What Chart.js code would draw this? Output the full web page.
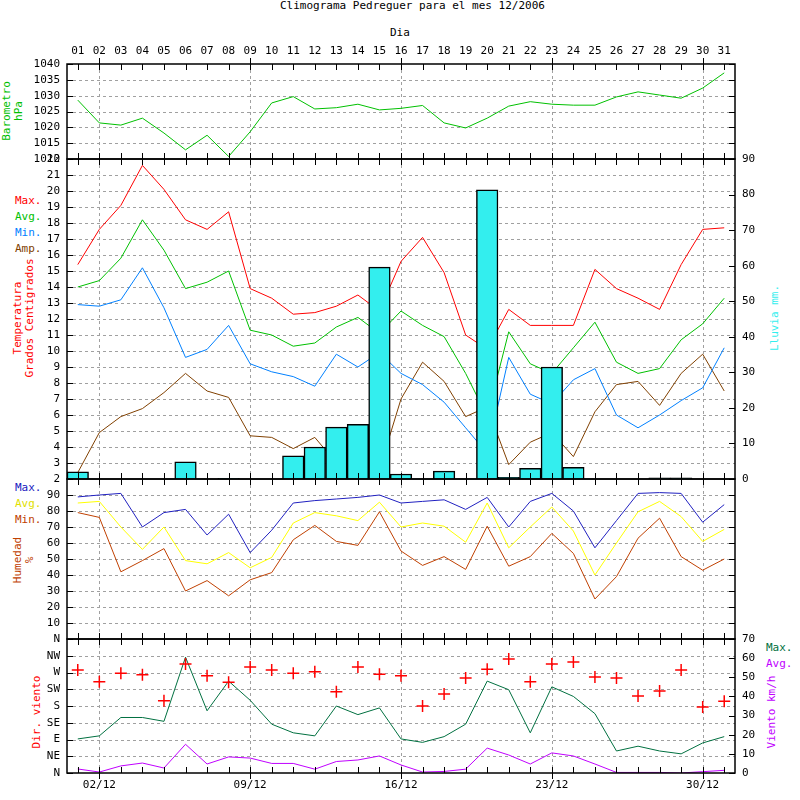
<!DOCTYPE html>
<html lang="es">
<head>
<meta charset="UTF-8">
<title>Climograma Pedreguer 12/2006</title>
<script src="https://cdn.jsdelivr.net/npm/chart.js"></script>
<style>
  body { margin: 0; background: #fff; font-family: "DejaVu Sans Mono", monospace; font-size: 11px; }
  #wrap { position: relative; width: 800px; height: 800px; overflow: hidden; }
  canvas { position: absolute; left: 0; }
  .t { position: absolute; white-space: nowrap; line-height: 12px; }
  .rot { transform: translate(-50%, -50%) rotate(-90deg); text-align: center; }
</style>
</head>
<body>
<div id="wrap">
  <div class="t" style="left:280px;top:0px">Climograma Pedreguer para el mes 12/2006</div>
  <div class="t" style="left:390px;top:27px">Dia</div>

  <div class="t rot" style="left:13px;top:111px;color:#00c000">Barometro<br>hPa</div>

  <div class="t" style="left:15px;top:195px;color:#ff0000">Max.</div>
  <div class="t" style="left:15px;top:211px;color:#00c000">Avg.</div>
  <div class="t" style="left:15px;top:227px;color:#0080ff">Min.</div>
  <div class="t" style="left:15px;top:243px;color:#804000">Amp.</div>
  <div class="t rot" style="left:24px;top:318px;color:#ff0000">Temperatura<br>Grados Centigrados</div>
  <div class="t rot" style="left:775px;top:318px;color:#33eeee">Lluvia mm.</div>

  <div class="t" style="left:15px;top:482px;color:#2020c0">Max.</div>
  <div class="t" style="left:15px;top:498px;color:#e0e000">Avg.</div>
  <div class="t" style="left:15px;top:514px;color:#c04000">Min.</div>
  <div class="t rot" style="left:24px;top:560px;color:#c04000">Humedad<br>%</div>

  <div class="t rot" style="left:37px;top:712px;color:#ff0000">Dir. viento</div>
  <div class="t" style="left:766px;top:642px;color:#007040">Max.</div>
  <div class="t" style="left:766px;top:658px;color:#c000ff">Avg.</div>
  <div class="t rot" style="left:772px;top:712px;color:#c000ff">Viento km/h</div>

  <canvas id="c1" width="800" height="175" style="top:0px"></canvas>
  <canvas id="c2" width="800" height="350" style="top:145px"></canvas>
  <canvas id="c3" width="800" height="190" style="top:465px"></canvas>
  <canvas id="c4" width="800" height="175" style="top:625px"></canvas>
</div>
<script>
const days = ['01','02','03','04','05','06','07','08','09','10','11','12','13','14','15','16',
              '17','18','19','20','21','22','23','24','25','26','27','28','29','30','31'];
const bottomLabels = { '02': '02/12', '09': '09/12', '16': '16/12', '23': '23/12', '30': '30/12' };

const barometro = [1028.6,1021.4,1020.7,1022.9,1018.2,1012.9,1017.5,1010.8,1018.6,1027.7,1029.7,1025.8,
                   1026.2,1027.3,1025.5,1026.0,1026.9,1021.4,1019.8,1022.9,1026.7,1028.1,1027.3,1027.0,
                   1027.0,1029.6,1031.2,1030.2,1029.2,1032.4,1037.2];

const tempMax = [15.4,17.6,19.1,21.6,20.1,18.2,17.6,18.7,13.9,13.3,12.3,12.4,12.8,13.5,12.5,15.6,
                 17.1,14.9,11.0,10.1,12.6,11.6,11.6,11.6,15.1,13.9,13.3,12.6,15.4,17.6,17.7];
const tempAvg = [14.0,14.4,15.8,18.2,16.3,13.9,14.3,15.0,11.3,11.0,10.3,10.5,11.5,12.1,11.1,12.5,
                 11.6,10.9,8.6,5.9,11.2,9.2,8.6,10.2,11.8,9.3,8.6,8.9,10.7,11.7,13.3];
const tempMin = [12.9,12.8,13.2,15.2,12.7,9.6,10.1,11.6,9.2,8.7,8.4,7.8,9.8,9.0,9.9,8.6,
                 7.9,6.8,5.2,3.6,9.6,7.3,6.7,8.2,8.9,6.0,5.2,6.0,6.9,7.7,10.2];
const tempAmp = [2.4,4.9,5.9,6.4,7.4,8.6,7.5,7.1,4.7,4.6,3.9,4.6,3.0,4.5,2.6,7.0,
                 9.3,8.1,5.9,6.5,2.9,4.3,4.9,3.4,6.2,7.9,8.1,6.6,8.6,9.8,7.5];
const lluvia = [2.0,0,0,0,0,4.8,0,0.2,0,0,6.5,9.0,14.6,15.4,59.6,1.4,
                0,2.2,0,81.3,0.5,3.0,31.5,3.3,0,0,0,0.3,0.3,0,0];

const humMax = [88.8,90,91,70,79,81,65,78,54,68,85,86.5,87.5,88.5,90,85,
                86,87,81,88.5,70,86,91,80,57,74,91,91.5,91,73,84];
const humAvg = [85,86,70,56,70,49,47,54,44.5,51,72.5,79,77,74,85.5,70,
                72.5,70.5,60.5,85,57,70,82.5,67.5,40,60,79.5,86,76.5,61,68.5];
const humMin = [79,76,42,49,56.5,30,36.5,27,37,41.5,62,71,61,58.5,79.5,55,
                46,51.5,43.5,70.5,45.5,51.5,66,53.5,25,39,63,75.5,51.5,43,50];

const vientoDir = [277,245,268,264,194,293,261,244,285,277,268,272,218,285,265,261,
                   180,212,255,279,306,245,293,298,258,255,207,220,277,177,193];
const vientoMax = [17.8,19.4,29,29,27,60.5,32.5,48,38,25.5,21,19.4,35,30.5,34,17.8,
                   16,19,25.5,48,43.5,21,45,40,31,11.5,14,11.5,10,15.7,19];
const vientoAvg = [2.1,0.5,3.7,5.2,2.6,15,4.7,8.4,7.8,5,5,2,6,6.8,8.9,4.2,
                   0.5,0.8,2,13,9.4,4.7,10.5,8.9,4.7,0.3,0.3,0.3,0,0.7,1.4];
const dirLabels = ['N','NE','E','SE','S','SW','W','NW','N'];

const FONT = { family: 'DejaVu Sans Mono', size: 11 };
Chart.defaults.font = FONT;
Chart.defaults.color = '#000';
Chart.defaults.animation = false;

const weekIdx = [1, 8, 15, 22, 29];

// gnuplot style frame: dashed grid, border and inward ticks
const frame = {
  id: 'frame',
  beforeDatasetsDraw(chart) {
    const { ctx, chartArea: a, scales } = chart;
    ctx.save();
    ctx.strokeStyle = '#a0a0a0';
    ctx.lineWidth = 1;
    ctx.setLineDash([3, 3]);
    weekIdx.forEach(i => {
      const x = Math.round(scales.x.getPixelForValue(i)) + 0.5;
      ctx.beginPath(); ctx.moveTo(x, a.top); ctx.lineTo(x, a.bottom); ctx.stroke();
    });
    scales.y.ticks.forEach(t => {
      const y = Math.round(scales.y.getPixelForValue(t.value)) + 0.5;
      if (y <= a.top + 1 || y >= a.bottom - 1) return;
      ctx.beginPath(); ctx.moveTo(a.left, y); ctx.lineTo(a.right, y); ctx.stroke();
    });
    ctx.restore();
  },
  afterDraw(chart) {
    const { ctx, chartArea: a, scales } = chart;
    ctx.save();
    ctx.strokeStyle = '#000';
    ctx.lineWidth = 1.5;
    ctx.strokeRect(a.left, a.top, a.right - a.left, a.bottom - a.top);
    ctx.lineWidth = 1;
    ctx.beginPath();
    days.forEach((d, i) => {
      const x = Math.round(scales.x.getPixelForValue(i)) + 0.5;
      const big = weekIdx.includes(i);
      ctx.moveTo(x, a.top - (big ? 6 : 0)); ctx.lineTo(x, a.top + 6);
      ctx.moveTo(x, a.bottom + (big ? 6 : 0)); ctx.lineTo(x, a.bottom - 6);
    });
    scales.y.ticks.forEach(t => {
      const y = Math.round(scales.y.getPixelForValue(t.value)) + 0.5;
      ctx.moveTo(a.left, y); ctx.lineTo(a.left + 6, y);
      if (!scales.y2) { ctx.moveTo(a.right, y); ctx.lineTo(a.right - 6, y); }
    });
    if (scales.y2) {
      scales.y2.ticks.forEach(t => {
        const y = Math.round(scales.y2.getPixelForValue(t.value)) + 0.5;
        ctx.moveTo(a.right, y); ctx.lineTo(a.right - 6, y);
      });
    }
    ctx.stroke();
    ctx.restore();
  }
};

function xAxis(position, show, labelFn) {
  const ticks = { autoSkip: false, maxRotation: 0, padding: 6 };
  if (labelFn) ticks.callback = labelFn;
  return {
    type: 'category', offset: true, position: position, display: show,
    grid: { display: false, drawTicks: false }, border: { display: false },
    ticks: ticks,
    afterFit: s => { if (show) s.height = position === 'top' ? 64 : 27; }
  };
}

function yAxis(min, max, step, labelFn, side) {
  return {
    type: 'linear', min: min, max: max, position: side || 'left',
    grid: { display: false, drawTicks: false }, border: { display: false },
    ticks: { stepSize: step, padding: 7, autoSkip: false, callback: labelFn || (v => String(v)) },
    afterFit: s => { s.width = side === 'right' ? 65 : 67; }
  };
}

function line(data, color, yID) {
  return { type: 'line', data: data, borderColor: color, borderWidth: 1, pointRadius: 0,
           tension: 0, fill: false, order: 1, yAxisID: yID || 'y' };
}

function make(id, datasets, scales, padding) {
  return new Chart(document.getElementById(id), {
    data: { labels: days, datasets: datasets },
    options: {
      responsive: false, devicePixelRatio: 1,
      layout: { padding: padding },
      plugins: { legend: { display: false }, tooltip: { enabled: false } },
      scales: scales
    },
    plugins: [frame]
  });
}

// Barometro
make('c1', [line(barometro, '#00c000')], {
  x: xAxis('top', true, (v, i) => days[i]),
  y: yAxis(1010, 1040, 5)
}, { top: 0, bottom: 16, left: 0, right: 65 });

// Temperatura + lluvia
make('c2', [
  { type: 'bar', data: lluvia, yAxisID: 'y2', backgroundColor: '#33eeee', borderColor: '#000',
    borderWidth: 1.5, barPercentage: 1, categoryPercentage: 1, order: 0 },
  line(tempMax, '#ff0000'), line(tempAvg, '#00c000'),
  line(tempMin, '#0080ff'), line(tempAmp, '#804000')
], {
  x: xAxis('bottom', false),
  y: yAxis(2, 22, 1),
  y2: yAxis(0, 90, 10, null, 'right')
}, { top: 14, bottom: 16, left: 0, right: 0 });

// Humedad
make('c3', [line(humMax, '#2020c0'), line(humAvg, '#ffff00'), line(humMin, '#c04000')], {
  x: xAxis('bottom', false),
  y: yAxis(0, 100, 10, v => (v === 0 || v === 100) ? '' : String(v))
}, { top: 14, bottom: 16, left: 0, right: 65 });

// Viento
make('c4', [
  { type: 'scatter', data: vientoDir, yAxisID: 'y', pointStyle: 'cross', pointRadius: 6,
    borderColor: '#ff0000', borderWidth: 1.5, showLine: false, order: 1 },
  line(vientoMax, '#007040', 'y2'), line(vientoAvg, '#c000ff', 'y2')
], {
  x: xAxis('bottom', true, (v, i) => bottomLabels[days[i]] || ''),
  y: yAxis(0, 360, 45, v => dirLabels[Math.round(v / 45)]),
  y2: yAxis(0, 70, 10, null, 'right')
}, { top: 14, bottom: 0, left: 0, right: 0 });
</script>
</body>
</html>
